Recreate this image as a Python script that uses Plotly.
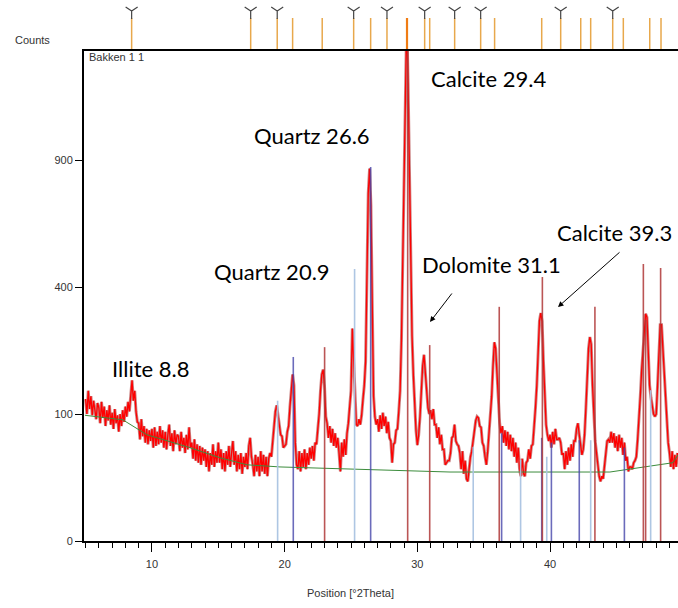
import numpy as np
import plotly.graph_objects as go

# ---------------- data ----------------
theta_start = 5.0
theta_step = 0.1
counts = [
    125, 100, 140, 108, 130, 98, 122, 104, 92, 118,    # 5
    110, 86, 120, 94, 112, 82, 106, 90, 114, 84,       # 6
    102, 78, 108, 86, 98, 74, 100, 82, 106, 88,        # 7
    112, 96, 120, 104, 134, 160, 122, 140, 104, 88,    # 8
    86, 64, 92, 68, 82, 60, 78, 58, 76, 62,            # 9
    78, 54, 80, 56, 74, 58, 82, 60, 76, 54,            # 10
    74, 52, 70, 84, 56, 72, 50, 76, 58, 70,            # 11
    68, 50, 74, 54, 66, 48, 70, 52, 80, 54,            # 12
    60, 42, 64, 40, 58, 38, 56, 36, 54, 40,            # 13
    52, 34, 50, 30, 48, 36, 58, 34, 50, 38,            # 14
    60, 38, 52, 32, 48, 30, 50, 36, 56, 34,            # 15
    48, 62, 36, 50, 30, 46, 32, 48, 28, 44,            # 16
    34, 48, 32, 56, 66, 44, 36, 26, 46, 30,            # 17
    44, 26, 50, 30, 46, 28, 44, 26, 42, 48,            # 18
    44, 64, 84, 104, 114, 96, 88, 70, 68, 54,          # 19
    56, 58, 74, 82, 112, 138, 172, 150, 60, 36,        # 20
    32, 50, 30, 48, 34, 52, 32, 48, 36, 54,            # 21
    42, 56, 40, 60, 58, 78, 100, 140, 172, 182,        # 22
    150, 96, 86, 66, 82, 60, 78, 56, 72, 54,           # 23
    66, 48, 30, 60, 44, 64, 46, 72, 86, 112,           # 24
    140, 280, 200, 120, 84, 82, 92, 84, 98, 124,       # 25
    150, 200, 400, 750, 860, 700, 350, 130, 96, 84,    # 26
    92, 74, 98, 78, 102, 82, 96, 72, 88, 66,           # 27
    62, 38, 58, 60, 76, 78, 104, 140, 250, 500,        # 28
    900, 1300, 1700, 1300, 800, 450, 260, 170, 110, 75,  # 29
    57, 70, 96, 140, 190, 215, 170, 130, 110, 100,     # 30
    106, 92, 108, 84, 84, 66, 80, 58, 70, 52,          # 31
    52, 36, 38, 40, 40, 48, 66, 68, 84, 62,            # 32
    58, 56, 48, 32, 50, 28, 40, 24, 22, 36,            # 33
    44, 50, 62, 74, 90, 96, 94, 82, 80, 60,            # 34
    56, 44, 36, 50, 70, 96, 130, 190, 245, 230,        # 35
    170, 120, 86, 72, 82, 60, 76, 56, 74, 52,          # 36
    70, 50, 66, 44, 60, 38, 54, 32, 26, 42,            # 37
    28, 26, 38, 40, 52, 42, 56, 58, 78, 110,           # 38
    150, 230, 300, 322, 300, 200, 120, 84, 70, 62,     # 39
    70, 54, 74, 58, 78, 64, 64, 66, 60, 46,            # 40
    48, 32, 50, 36, 54, 40, 58, 44, 62, 62,            # 41
    78, 86, 70, 56, 46, 52, 70, 110, 180, 230,         # 42
    258, 240, 150, 90, 62, 48, 36, 26, 22, 26,         # 43
    24, 36, 44, 62, 64, 60, 74, 60, 72, 54,            # 44
    68, 50, 70, 54, 66, 46, 60, 40, 44, 30,            # 45
    34, 34, 32, 38, 40, 44, 64, 88, 130, 180,          # 46
    230, 290, 320, 310, 230, 150, 128, 110, 100, 96,   # 47
    100, 150, 230, 290, 290, 230, 170, 130, 100, 60,   # 48
    48, 34, 50, 32, 46, 34, 48,                        # 49
]

background_theta = [4.95, 7.81, 9.62, 12.86, 15.12, 17.16, 19.65, 24.92, 32.46, 44.51, 49.26, 49.64]
background_counts = [98, 91, 70, 54, 43, 36, 34, 32, 29.5, 29.5, 38, 46]

light_theta = [19.47, 25.27, 34.21, 37.78, 39.75, 43.06, 47.58]
light_counts = [122, 459, 55, 41, 44, 63, 141]

blue_theta = [20.65, 26.48, 36.35, 39.37, 40.10, 42.20, 45.60]
blue_counts = [210, 867, 72, 66, 60, 63, 54]

red_theta = [23.01, 29.27, 30.93, 36.17, 39.42, 43.38, 47.03, 47.20, 48.33]
red_counts = [233, 1600, 238, 340, 432, 340, 476, 303, 462]

peak_theta = [8.47, 17.44, 19.44, 20.60, 22.83, 25.20, 26.48, 27.71, 29.22, 30.55, 30.93,
              32.81, 34.77, 35.82, 39.37, 40.80, 42.31, 43.06, 44.72, 45.52, 47.51, 48.36]
peak_marked = [1, 1, 1, 0, 0, 1, 0, 1, 0, 1, 0,
               1, 1, 0, 0, 1, 0, 0, 1, 0, 0, 0]

y_tick_counts = [0, 100, 400, 900]

label_texts = ["Illite 8.8", "Quartz 20.9", "Quartz 26.6", "Calcite 29.4", "Dolomite 31.1", "Calcite 39.3"]

# ---------------- figure ----------------
W, H = 678, 608
ML, MB = 84, 67
plot_h = H - MB
main_top_px = 49
split = (plot_h - main_top_px) / plot_h
y_top = (plot_h - main_top_px) / 12.7

theta = theta_start + theta_step * np.arange(len(counts))
ysq = np.sqrt(np.array(counts, dtype=float))


def sticks(xs, cs):
    xx, yy = [], []
    for x, c in zip(xs, cs):
        xx += [x, x, None]
        yy += [0, float(np.sqrt(c)), None]
    return xx, yy


fig = go.Figure()

fig.add_trace(go.Scatter(x=theta, y=ysq, mode="lines",
                         line=dict(color="rgba(160,30,30,0.55)", width=3.0),
                         hoverinfo="skip", xaxis="x", yaxis="y"))
fig.add_trace(go.Scatter(x=theta, y=ysq, mode="lines",
                         line=dict(color="#ff0000", width=1.3),
                         hoverinfo="skip", xaxis="x", yaxis="y"))

fig.add_trace(go.Scatter(x=background_theta, y=np.sqrt(background_counts), mode="lines",
                         line=dict(color="#3c8c3c", width=1), xaxis="x", yaxis="y"))

for xs, cs, col in [(light_theta, light_counts, "rgba(170,195,225,0.95)"),
                    (blue_theta, blue_counts, "rgba(70,70,170,0.8)"),
                    (red_theta, red_counts, "rgba(175,55,55,0.85)")]:
    sx, sy = sticks(xs, cs)
    fig.add_trace(go.Scatter(x=sx, y=sy, mode="lines", line=dict(color=col, width=1.6),
                             xaxis="x", yaxis="y"))

px_, py_ = [], []
for x in peak_theta:
    px_ += [x, x, None]
    py_ += [0, 31, None]
fig.add_trace(go.Scatter(x=px_, y=py_, mode="lines", line=dict(color="#e8a84c", width=1.5),
                         xaxis="x2", yaxis="y2"))
i_max = int(np.argmin([abs(p - 29.22) for p in peak_theta]))
fig.add_trace(go.Scatter(x=[peak_theta[i_max]] * 2, y=[0, 31], mode="lines",
                         line=dict(color="#f07c14", width=2.2), xaxis="x2", yaxis="y2"))
mx = [p for p, m in zip(peak_theta, peak_marked) if m]
fig.add_trace(go.Scatter(x=mx, y=[38] * len(mx), mode="markers",
                         marker=dict(symbol="y-down-open", size=10, color="#444444",
                                     line=dict(color="#444444", width=1.2)),
                         xaxis="x2", yaxis="y2"))

axfont = dict(family="Liberation Sans, Arial, sans-serif", size=11, color="#333333")

fig.update_layout(
    width=W, height=H,
    margin=dict(l=ML, r=0, t=0, b=MB),
    paper_bgcolor="white", plot_bgcolor="white",
    showlegend=False,
    xaxis=dict(range=[4.88, 49.64], anchor="y", domain=[0, 1],
               showline=True, linecolor="black", linewidth=2,
               ticks="outside", tick0=0, dtick=10, ticklen=9, tickwidth=1, tickcolor="black",
               minor=dict(ticks="outside", tick0=0, dtick=1, ticklen=5, tickcolor="black", showgrid=False),
               showgrid=False, zeroline=False, tickfont=axfont, ticklabelstandoff=3),
    yaxis=dict(domain=[0, split], range=[0, y_top],
               tickvals=[float(np.sqrt(v)) for v in y_tick_counts],
               ticktext=[str(v) for v in y_tick_counts],
               showline=True, linecolor="black", linewidth=2,
               ticks="outside", ticklen=7, tickcolor="black",
               showgrid=False, zeroline=False, tickfont=axfont),
    xaxis2=dict(matches="x", anchor="y2", showline=True, linecolor="black", linewidth=2,
                showticklabels=False, ticks="", showgrid=False, zeroline=False),
    yaxis2=dict(domain=[split, 1], range=[0, 49], visible=False),
)


def pxx(p):
    return (p - ML) / (W - ML)


def pxy(p):
    return (plot_h - p) / plot_h


fig.add_annotation(text="Position [°2Theta]", x=pxx(350), y=pxy(593), xref="paper", yref="paper",
                   showarrow=False, font=axfont, xanchor="center", yanchor="middle")
fig.add_annotation(text="Counts", x=pxx(32), y=pxy(40), xref="paper", yref="paper",
                   showarrow=False, font=axfont, xanchor="center", yanchor="middle")
fig.add_annotation(text="Bakken 1 1", x=pxx(87), y=pxy(57), xref="paper", yref="paper",
                   showarrow=False, font=axfont, xanchor="left", yanchor="middle")

label_pos = [(150, 368), (272, 272), (312, 135), (488, 79), (491, 264), (614, 232)]
lblfont = dict(family="Lato, Carlito, Calibri, sans-serif", size=22, color="black")
for t, (x, y) in zip(label_texts, label_pos):
    fig.add_annotation(text=t, x=pxx(x), y=pxy(y), xref="paper", yref="paper",
                       showarrow=False, font=lblfont, xanchor="center", yanchor="middle")

for (hx, hy, tx, ty) in [(430, 322, 453, 292), (558, 307, 621, 251)]:
    fig.add_annotation(text="", x=pxx(hx), y=pxy(hy), xref="paper", yref="paper",
                       ax=tx - hx, ay=ty - hy, showarrow=True, arrowhead=2,
                       arrowsize=1.1, arrowwidth=1, arrowcolor="black")

fig.write_html("out.html", config={"displayModeBar": False},
               post_script="document.body.style.margin='0';document.body.style.padding='0';")
